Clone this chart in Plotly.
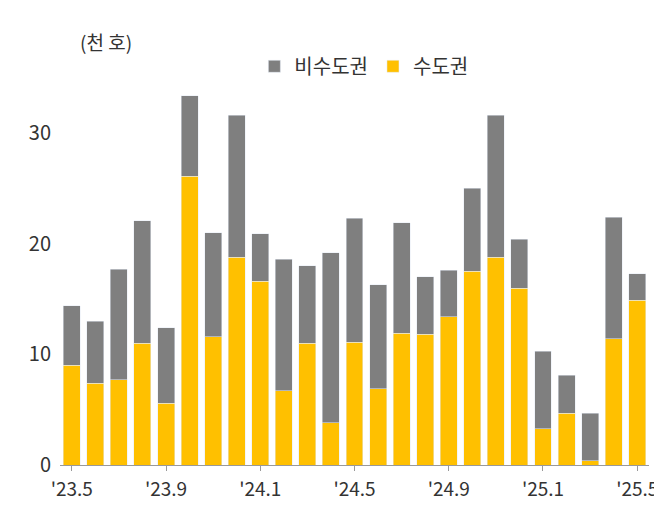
import plotly.graph_objects as go

months = ["'23.5","'23.6","'23.7","'23.8","'23.9","'23.10","'23.11","'23.12",
          "'24.1","'24.2","'24.3","'24.4","'24.5","'24.6","'24.7","'24.8",
          "'24.9","'24.10","'24.11","'24.12","'25.1","'25.2","'25.3","'25.4","'25.5"]
total = [14.4,13.0,17.7,22.1,12.4,33.4,21.0,31.6,20.9,18.6,18.0,19.2,22.3,16.3,21.9,17.0,
         17.6,25.0,31.6,20.4,10.3,8.1,4.7,22.4,17.3]
capital = [9.0,7.4,7.7,11.0,5.6,26.1,11.6,18.8,16.6,6.7,11.0,3.8,11.1,6.9,11.9,11.8,
           13.4,17.5,18.8,16.0,3.3,4.7,0.4,11.4,14.9]
noncapital = [round(t - c, 2) for t, c in zip(total, capital)]
tick_labels = ["'23.5","'23.9","'24.1","'24.5","'24.9","'25.1","'25.5"]

fig = go.Figure()
fig.add_bar(x=months, y=capital, name="수도권", marker_color="#FFC000", width=0.72)
fig.add_bar(x=months, y=noncapital, name="비수도권", marker_color="#7F7F7F", width=0.72)
fig.update_layout(
    barmode="stack", width=662, height=505, plot_bgcolor="white", paper_bgcolor="white",
    margin=dict(l=52, r=14, t=14, b=48),
    font=dict(family="Noto Sans CJK KR", size=19, color="#333"),
    legend=dict(orientation="h", x=0.33, y=0.90, xanchor="left", yanchor="middle",
                traceorder="reversed", font=dict(size=20), itemwidth=30),
    showlegend=True,
    bargap=0.28,
)
fig.update_xaxes(tickmode="array", tickvals=tick_labels, ticktext=tick_labels,
                 showline=True, linecolor="#999", ticks="outside", ticklen=5,
                 tickcolor="#999", showgrid=False, ticklabelstandoff=2)
fig.update_yaxes(range=[0, 40.05], tickvals=[0, 10, 20, 30, 40], showgrid=False,
                 showline=False, zeroline=False, tickfont=dict(size=20),
                 ticklabelstandoff=8)
fig.add_annotation(text="(천 호)", xref="paper", yref="paper", x=0.03, y=0.955,
                   showarrow=False, xanchor="left", yanchor="middle", font=dict(size=19))
fig.write_html("out.html")
